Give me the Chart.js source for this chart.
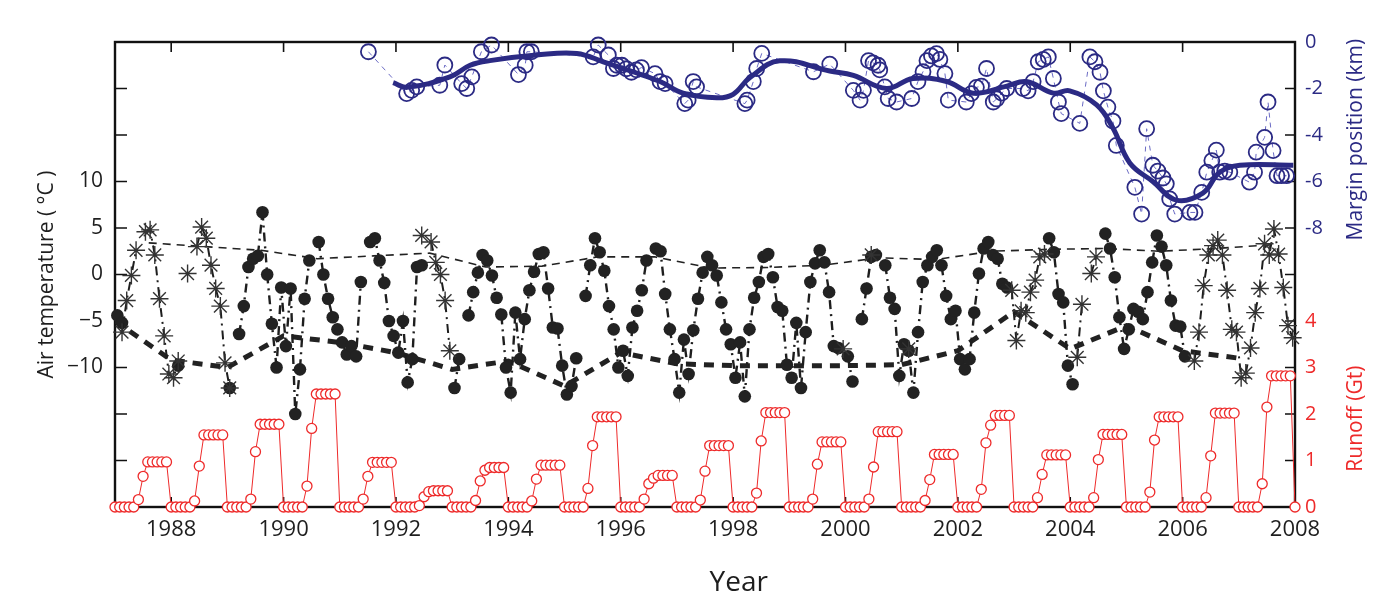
<!DOCTYPE html>
<html>
<head>
<meta charset="utf-8">
<script src="https://cdn.jsdelivr.net/npm/chart.js@4.4.0/dist/chart.umd.min.js"></script>
<style>
  html, body { margin: 0; padding: 0; background: #fff; }
  #wrap { width: 1400px; height: 607px; }
</style>
</head>
<body>
<div id="wrap"><canvas id="chart"></canvas></div>
<script>
const _ = null;
const startYear = 1987;
const years = [1987, 1988, 1989, 1990, 1991, 1992, 1993, 1994, 1995, 1996, 1997,
  1998, 1999, 2000, 2001, 2002, 2003, 2004, 2005, 2006, 2007];

/* --------------- Tick labels --------------- */
const yearTicks = [1988, 1990, 1992, 1994, 1996, 1998, 2000, 2002, 2004, 2006, 2008];
const tempTicks = [-25, -20, -15, -10, -5, 0, 5, 10, 15, 20, 25];
const tempLabels = [-10, -5, 0, 5, 10];
const marginTicks = [-10, -8, -6, -4, -2, 0];
const marginLabels = [-8, -6, -4, -2, 0];
const runoffTicks = [0, 1, 2, 3, 4, 5];
const runoffLabels = [0, 1, 2, 3, 4];

/* --------------- Monthly air temperature, filled dots (Jan..Dec per row) --------------- */
const dotTemp = [
  /* 1987 */ -4.4, -5.2, _, _, _, _, _, _, _, _, _, _,
  /* 1988 */ _, -9.8, _, _, _, _, _, _, _, _, _, _,
  /* 1989 */ -12.2, _, -6.4, -3.4, 0.8, 1.7, 2.0, 6.7, 0, -5.3, -10, -1.4,
  /* 1990 */ -7.7, -1.5, -15, -10.2, -2.6, 1.5, _, 3.5, 0, -2.6, -4.6, -5.9,
  /* 1991 */ -7.3, -8.6, -7.7, -8.8, -0.8, _, 3.5, 3.9, 1.5, -0.9, -5, -6.6,
  /* 1992 */ -8.4, -5, -11.6, -9.1, 0.8, 1.0, _, _, _, _, _, _,
  /* 1993 */ -12.2, -9.1, _, -4.4, -1.9, 0.2, 2.1, 1.5, -0.1, -2.5, -4.3, -10,
  /* 1994 */ -12.7, -4.1, -9.1, -4.8, -1.7, 0.3, 2.2, 2.4, -1.5, -5.7, -5.8, -9.8,
  /* 1995 */ -12.9, -12, -9, _, -2.3, 1.0, 3.9, 2.4, 0.4, -3.4, -5.9, -10,
  /* 1996 */ -8.2, -10.9, -5.7, -3.9, -1.7, 1.5, _, 2.8, 2.5, -2.1, -5.9, -9.1,
  /* 1997 */ -12.7, -7, -10.7, -6, -2.6, 0.2, 1.9, 1.0, -0.1, -3.0, -5.9, -7.5,
  /* 1998 */ -11.1, -7.3, -13.1, -5.9, -2.5, -0.8, 1.9, 2.2, -0.3, -3.5, -3.9, -9.7,
  /* 1999 */ -11.1, -5.2, -12.2, -6.2, -0.8, 1.2, 2.6, 1.3, -1.9, -7.7, -7.9, _,
  /* 2000 */ -8.8, -11.5, _, -4.8, -1.5, 1.9, 2.1, _, 1.0, -2.5, -3.7, -10.9,
  /* 2001 */ -7.5, -8.2, -12.7, -6.2, -0.8, 1.0, 1.9, 2.6, 1.0, -2.3, -4.8, -3.9,
  /* 2002 */ -9.1, -10.2, -9.1, -4.1, 0.1, 2.8, 3.5, 2.1, 1.7, -1.0, -1.4, _,
  /* 2003 */ _, _, _, _, _, _, _, 3.9, 2.4, -2.1, -3.0, -9.8,
  /* 2004 */ -11.8, _, _, _, _, _, _, 4.4, 2.8, -0.3, -4.6, -8.0,
  /* 2005 */ -5.9, -3.7, -4.0, -4.8, -1.9, 1.3, 4.2, 3.0, 1.0, -2.8, -5.5, -5.6,
  /* 2006 */ -8.8, _, _, _, _, _, _, _, _, _, _, _,
  /* 2007 */ _, _, _, _, _, _, _, _, _, _, _, _,
];

/* --------------- Monthly air temperature, asterisks (Jan..Dec per row) --------------- */
const starTemp = [
  /* 1987 */ _, -6.2, -2.8, -0.1, 2.6, _, 4.6, 4.8, 2.1, -2.6, -6.6, -10.7,
  /* 1988 */ -11.1, -9.3, _, 0.1, _, 3.0, 5.1, 3.9, 1.0, -1.5, -3.4, -9.5,
  /* 1989 */ -12.2, _, _, _, _, _, _, _, _, _, _, _,
  /* 1990 */ _, _, _, _, _, _, _, _, _, _, _, _,
  /* 1991 */ _, _, _, _, _, _, _, _, _, _, _, _,
  /* 1992 */ _, _, _, _, _, 4.2, _, 3.5, 1.3, 0.0, -2.8, -8.2,
  /* 1993 */ _, _, _, _, _, _, _, _, _, _, _, _,
  /* 1994 */ _, _, _, _, _, _, _, _, _, _, _, _,
  /* 1995 */ _, _, _, _, _, _, _, _, _, _, _, _,
  /* 1996 */ _, _, _, _, _, _, _, _, _, _, _, _,
  /* 1997 */ _, _, _, _, _, _, _, _, _, _, _, _,
  /* 1998 */ _, _, _, _, _, _, _, _, _, _, _, _,
  /* 1999 */ _, _, _, _, _, _, _, _, _, _, _, -8.0,
  /* 2000 */ _, _, _, _, _, 2.1, _, _, _, _, _, _,
  /* 2001 */ _, -8.0, _, _, _, _, _, _, _, _, _, _,
  /* 2002 */ _, _, _, _, _, _, _, _, _, _, _, -1.7,
  /* 2003 */ -7.1, -3.9, -4.1, -1.9, -0.6, 1.9, 2.2, _, _, _, _, _,
  /* 2004 */ _, -8.9, -3.2, _, 0.1, 1.9, _, _, _, _, _, _,
  /* 2005 */ _, _, _, _, _, _, _, _, _, _, _, _,
  /* 2006 */ _, _, -9.3, -6.2, -1.2, 2.1, 3.1, 3.7, 2.1, -1.7, -5.9, -6.2,
  /* 2007 */ -11.1, -10.6, -7.9, -4.1, -1.5, 3.3, 2.1, 4.9, 2.2, -1.4, -5.5, -6.8,
];

/* --------------- Annual summer (thin dashed) and winter (thick dashed) means --------------- */
const summerTemp = [3.4, 3.0, 2.6, 1.7, 2.0, 2.3, 0.8, 0.9, 1.9, 1.9, 0.7,
  0.75, 1.0, 1.8, 1.6, 2.5, 2.7, 2.8, 2.5, 2.8, 3.2];
const winterTemp = [-5.0, -9.2, -10.0, -6.6, -7.3, -8.4, -10.2, -9.3, -12.0, -8.4, -9.6,
  -9.8, -9.8, -9.8, -9.7, -8.2, -4.0, -8.0, -5.5, -8.2, -9.0];

/* --------------- Cumulative runoff (Gt): Jan-May are zero --------------- */
const runoffJun = [0.16, 0.13, 0.17, 0.45, 0.17, 0.03, 0.14, 0.13, 0.40, 0.17, 0.15,
  0.30, 0.17, 0.17, 0.14, 0.38, 0.20, 0.20, 0.32, 0.20, 0.50];
const runoffJul = [0.66, 0.88, 1.19, 1.69, 0.66, 0.22, 0.56, 0.60, 1.32, 0.50, 0.77,
  1.42, 0.92, 0.86, 0.59, 1.38, 0.70, 1.02, 1.44, 1.10, 2.15];
const runoffAug = [0.97, 1.55, 1.78, 2.43, 0.96, 0.33, 0.79, 0.90, 1.94, 0.62, 1.32,
  2.03, 1.40, 1.62, 1.13, 1.76, 1.12, 1.56, 1.94, 2.02, 2.82];
const runoffTotal = [0.97, 1.55, 1.78, 2.43, 0.96, 0.35, 0.85, 0.90, 1.94, 0.68, 1.32,
  2.03, 1.40, 1.62, 1.13, 1.97, 1.12, 1.56, 1.94, 2.02, 2.82];

/* --------------- Margin position (km) --------------- */
const marginYear = [1991.51, 1992.19, 1992.28, 1992.37, 1992.78, 1992.87, 1993.17, 1993.26, 1993.35,
  1993.52, 1993.70, 1994.18, 1994.30, 1994.33, 1994.41, 1995.51, 1995.60, 1995.78, 1995.87, 1995.93,
  1996.02, 1996.10, 1996.19, 1996.28, 1996.37, 1996.61, 1996.70, 1996.79, 1997.14, 1997.20, 1997.29,
  1997.35, 1998.21, 1998.25, 1998.36, 1998.42, 1998.51, 1999.43, 1999.72, 2000.14, 2000.26, 2000.32,
  2000.41, 2000.49, 2000.58, 2000.61, 2000.70, 2000.76, 2000.91, 2001.18, 2001.29, 2001.38, 2001.45,
  2001.53, 2001.62, 2001.68, 2001.77, 2001.83, 2002.15, 2002.24, 2002.33, 2002.42, 2002.51, 2002.63,
  2002.69, 2002.78, 2002.87, 2003.16, 2003.25, 2003.34, 2003.43, 2003.52, 2003.61, 2003.70, 2003.79,
  2003.84, 2004.17, 2004.35, 2004.44, 2004.53, 2004.59, 2004.67, 2004.76, 2004.82, 2005.15, 2005.27,
  2005.36, 2005.47, 2005.56, 2005.65, 2005.71, 2005.77, 2005.86, 2006.13, 2006.22, 2006.34, 2006.43,
  2006.52, 2006.60, 2006.66, 2006.75, 2006.84, 2007.19, 2007.28, 2007.31, 2007.46, 2007.52, 2007.61,
  2007.68, 2007.76, 2007.85];
const marginKm = [-0.42, -2.22, -2.08, -1.93, -1.86, -0.99, -1.79, -2.0, -1.5,
  -0.42, -0.13, -1.4, -1.0, -0.42, -0.42, -0.64, -0.13, -0.56, -1.14, -1.0,
  -1.0, -1.15, -1.3, -1.2, -1.1, -1.36, -1.7, -1.79, -2.65, -2.5, -1.7,
  -1.93, -2.65, -2.5, -1.7, -1.14, -0.49, -1.28, -0.95, -2.08, -2.5, -2.08,
  -0.8, -0.9, -1.0, -1.2, -1.93, -2.43, -2.58, -2.43, -1.7, -1.28, -0.8,
  -0.6, -0.5, -0.75, -1.36, -2.5, -2.58, -2.22, -1.95, -1.9, -1.14, -2.58,
  -2.45, -2.2, -2.0, -2.0, -2.1, -1.7, -0.85, -0.75, -0.64, -1.57, -2.58,
  -3.08, -3.5, -0.64, -0.85, -1.3, -2.1, -2.8, -3.4, -4.45, -6.25, -7.4,
  -3.73, -5.3, -5.55, -5.85, -6.1, -6.75, -7.4, -7.33, -7.33, -6.47, -5.6,
  -5.1, -4.65, -5.6, -5.55, -5.6, -6.03, -5.6, -4.74, -4.1, -2.58, -4.67,
  -5.75, -5.75, -5.75];

/* --------------- Smoothed margin position --------------- */
const trendYear = [1991.95, 1992.2, 1992.96, 1993.32, 1993.67, 1994.5, 1995.22, 1995.69, 1996.22,
  1996.7, 1997.11, 1997.71, 1998.0, 1998.3, 1998.83, 1999.72, 2000.14, 2000.73, 2001.2, 2001.8,
  2002.27, 2002.87, 2003.22, 2003.7, 2003.99, 2004.47, 2004.76, 2005.06, 2005.47, 2005.89,
  2006.36, 2006.66, 2007.02, 2007.97];
const trendKm = [-1.75, -1.95, -1.5, -1.0, -0.8, -0.56, -0.49, -0.85, -1.28,
  -1.7, -2.2, -2.4, -2.25, -1.53, -0.81, -1.25, -1.44, -2.0, -1.57, -1.7,
  -2.2, -1.9, -1.7, -2.2, -2.1, -2.7, -3.7, -5.2, -6.0, -6.8,
  -6.5, -5.6, -5.3, -5.3];

/* --------------- Colours --------------- */
const BLUE = "#2b2a84";
const RED = "#ee2a2a";
const INK = "#1e1e1e";

Chart.defaults.font.family = "'Open Sans', 'Noto Sans', sans-serif";

/* --------------- Build point lists --------------- */
const monthMid = (g) => startYear + (g + 0.5) / 12;
const dotPts = dotTemp.map((v, g) => ({ x: monthMid(g), y: v }));
const starPts = starTemp.map((v, g) => ({ x: monthMid(g), y: v }));
const summerPts = years.map((yr, i) => ({ x: yr + 0.6, y: summerTemp[i] }));
const winterPts = years.map((yr, i) => ({ x: yr, y: winterTemp[i] }));

const runoffPts = [];
years.forEach((yr, i) => {
  const months = [0, 0, 0, 0, 0, runoffJun[i], runoffJul[i], runoffAug[i],
    runoffTotal[i], runoffTotal[i], runoffTotal[i], runoffTotal[i]];
  months.forEach((v, m) => runoffPts.push({ x: yr + m / 12, y: v }));
});
runoffPts.push({ x: 2008, y: 0 });

const marginPts = marginYear.map((yr, i) => ({ x: yr, y: marginKm[i] }));
const trendPts = trendYear.map((yr, i) => ({ x: yr, y: trendKm[i] }));

/* --------------- Frame, inward ticks, axis titles --------------- */
const drawTitle = (ctx, text, x, y, color, size, angle) => {
  ctx.save();
  ctx.textAlign = "center";
  ctx.textBaseline = "middle";
  ctx.font = size + "px 'Open Sans', sans-serif";
  ctx.fillStyle = color;
  ctx.translate(x, y);
  ctx.rotate(angle);
  ctx.fillText(text, 0, 0);
  ctx.restore();
};

const frame = {
  id: "frame",
  beforeDatasetsDraw(chart) {
    const { ctx, chartArea: a, scales } = chart;
    ctx.save();
    ctx.strokeStyle = "#111";
    ctx.lineWidth = 2.4;
    ctx.strokeRect(a.left, a.top, a.right - a.left, a.bottom - a.top);
    ctx.lineWidth = 1.6;
    ctx.beginPath();
    yearTicks.slice(0, -1).forEach((v) => {
      const px = scales.x.getPixelForValue(v);
      ctx.moveTo(px, a.top); ctx.lineTo(px, a.top + 10);
      ctx.moveTo(px, a.bottom); ctx.lineTo(px, a.bottom - 10);
    });
    tempTicks.slice(1, -1).forEach((v) => {
      const py = scales.y.getPixelForValue(v);
      ctx.moveTo(a.left, py); ctx.lineTo(a.left + 12, py);
    });
    marginTicks.slice(0, -1).forEach((v) => {
      const py = scales.yMargin.getPixelForValue(v);
      ctx.moveTo(a.right, py); ctx.lineTo(a.right - 10, py);
    });
    runoffTicks.slice(1, -1).forEach((v) => {
      const py = scales.yRunoff.getPixelForValue(v);
      ctx.moveTo(a.right, py); ctx.lineTo(a.right - 10, py);
    });
    ctx.stroke();
    ctx.restore();
  },
  afterDraw(chart) {
    const { ctx, chartArea: a, scales } = chart;
    drawTitle(ctx, "Margin position (km)", a.right + 61,
      scales.yMargin.getPixelForValue(-4.2), BLUE, 21, -Math.PI / 2);
    drawTitle(ctx, "Runoff (Gt)", a.right + 61,
      scales.yRunoff.getPixelForValue(1.9), RED, 21, -Math.PI / 2);
    drawTitle(ctx, "Year", scales.x.getPixelForValue(1998.1), a.bottom + 76, INK, 28, 0);
  },
};

const setTicks = (list) => (scale) => {
  scale.ticks = list.map((v) => ({ value: v }));
};

new Chart(document.getElementById("chart"), {
  type: "line",
  plugins: [frame],
  data: {
    datasets: [
      {
        label: "Smoothed margin",
        data: trendPts,
        yAxisID: "yMargin",
        borderColor: BLUE,
        borderWidth: 5,
        tension: 0.4,
        pointRadius: 0,
        clip: false,
        order: 1,
      },
      {
        label: "Margin position",
        data: marginPts,
        yAxisID: "yMargin",
        borderColor: "#6b6bc4",
        borderWidth: 1,
        borderDash: [5, 5],
        pointRadius: 7.5,
        pointBorderWidth: 1.8,
        pointBorderColor: BLUE,
        pointBackgroundColor: "rgba(0,0,0,0)",
        clip: false,
        order: 2,
      },
      {
        label: "Air temperature (asterisks)",
        data: starPts,
        yAxisID: "y",
        borderColor: INK,
        borderWidth: 2,
        borderDash: [9, 5, 2, 5],
        spanGaps: 0.25,
        pointStyle: "star",
        pointRadius: 9,
        pointBorderWidth: 1.4,
        pointBorderColor: "#333",
        pointBackgroundColor: "#333",
        clip: false,
        order: 3,
      },
      {
        label: "Air temperature (dots)",
        data: dotPts,
        yAxisID: "y",
        borderColor: INK,
        borderWidth: 2.4,
        borderDash: [9, 5, 2, 5],
        spanGaps: 0.25,
        pointStyle: "circle",
        pointRadius: 6.3,
        pointBorderWidth: 0,
        pointBackgroundColor: "#222",
        clip: false,
        order: 4,
      },
      {
        label: "Summer mean",
        data: summerPts,
        yAxisID: "y",
        borderColor: "#222",
        borderWidth: 1.6,
        borderDash: [8, 6],
        pointRadius: 0,
        order: 5,
      },
      {
        label: "Winter mean",
        data: winterPts,
        yAxisID: "y",
        borderColor: "#222",
        borderWidth: 5,
        borderDash: [10, 8],
        pointRadius: 0,
        order: 6,
      },
      {
        label: "Runoff",
        data: runoffPts,
        yAxisID: "yRunoff",
        borderColor: RED,
        borderWidth: 1,
        pointRadius: 5,
        pointBorderWidth: 1.3,
        pointBorderColor: RED,
        pointBackgroundColor: "#fff",
        clip: false,
        order: 7,
      },
    ],
  },
  options: {
    responsive: true,
    maintainAspectRatio: false,
    animation: false,
    events: [],
    layout: { padding: { top: 42, left: 0, right: 0, bottom: 0 } },
    plugins: { legend: { display: false }, tooltip: { enabled: false } },
    scales: {
      x: {
        type: "linear",
        min: 1987,
        max: 2008,
        afterBuildTicks: setTicks(yearTicks),
        afterFit: (s) => { s.height = 100; },
        grid: { display: false, drawTicks: false },
        border: { display: false },
        ticks: {
          color: INK,
          font: { size: 22 },
          padding: 10,
          maxRotation: 0,
          autoSkip: false,
          callback: (v) => String(v),
        },
      },
      y: {
        position: "left",
        min: -25,
        max: 25,
        afterBuildTicks: setTicks(tempTicks),
        afterFit: (s) => { s.width = 115; },
        grid: { display: false, drawTicks: false },
        border: { display: false },
        ticks: {
          color: INK,
          font: { size: 21 },
          padding: 12,
          callback: (v) => (tempLabels.includes(v) ? String(v).replace("-", "\u2212") : ""),
        },
        title: {
          display: true,
          text: "Air temperature ( \u00B0C )",
          color: INK,
          font: { size: 21 },
          padding: { top: 34, bottom: 0 },
        },
      },
      yMargin: {
        position: "right",
        stack: "right",
        stackWeight: 1,
        min: -10,
        max: 0,
        afterBuildTicks: setTicks(marginTicks),
        afterFit: (s) => { s.width = 105; },
        grid: { display: false, drawTicks: false },
        border: { display: false },
        ticks: {
          color: BLUE,
          font: { size: 20 },
          padding: 10,
          callback: (v) => (marginLabels.includes(v) ? String(v) : ""),
        },
      },
      yRunoff: {
        position: "right",
        stack: "right",
        stackWeight: 1,
        min: 0,
        max: 5,
        afterBuildTicks: setTicks(runoffTicks),
        afterFit: (s) => { s.width = 105; },
        grid: { display: false, drawTicks: false },
        border: { display: false },
        ticks: {
          color: RED,
          font: { size: 20 },
          padding: 10,
          callback: (v) => (runoffLabels.includes(v) ? String(v) : ""),
        },
      },
    },
  },
});
</script>
</body>
</html>
